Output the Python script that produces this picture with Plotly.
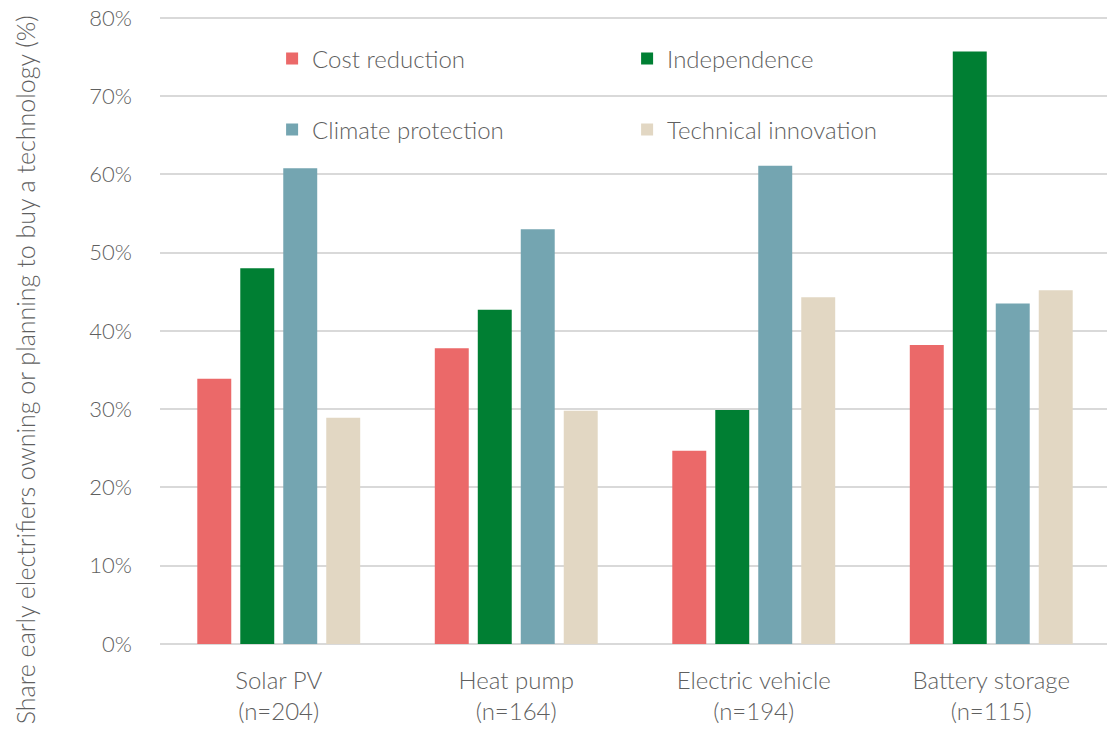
import plotly.graph_objects as go

categories = ["Solar PV<br>(n=204)", "Heat pump<br>(n=164)", "Electric vehicle<br>(n=194)", "Battery storage<br>(n=115)"]
series_names = ["Cost reduction", "Independence", "Climate protection", "Technical innovation"]
cost_reduction = [33.9, 37.8, 24.7, 38.2]
independence = [48.0, 42.7, 29.9, 75.7]
climate_protection = [60.8, 53.0, 61.1, 43.5]
technical_innovation = [28.9, 29.8, 44.3, 45.2]
y_ticks = [0, 10, 20, 30, 40, 50, 60, 70, 80]
y_tick_labels = ["0%", "10%", "20%", "30%", "40%", "50%", "60%", "70%", "80%"]
y_title = "Share early electrifiers owning or planning to buy a technology (%)"

colors = ["#EB6969", "#007F33", "#74A5B1", "#E2D7C3"]
values = [cost_reduction, independence, climate_protection, technical_innovation]
legends = ["legend", "legend", "legend2", "legend2"]

FONT = "Lato"
GRAY = "#5F5F5F"

fig = go.Figure()
for name, vals, col, lg in zip(series_names, values, colors, legends):
    fig.add_trace(go.Bar(x=categories, y=vals, name=name, marker_color=col,
                         marker_line_width=0, legend=lg))

fig.add_shape(type="rect", xref="paper", yref="y", x0=0.065, x1=0.816, y0=63, y1=78,
              fillcolor="white", line_width=0, layer="below")

fig.add_annotation(text=y_title, xref="paper", yref="paper", x=-0.142, y=0.436,
                   xanchor="center", yanchor="middle", textangle=-90, showarrow=False,
                   font=dict(family=FONT, size=25, color=GRAY, weight=300))

legend_common = dict(orientation="h", bgcolor="rgba(0,0,0,0)", entrywidth=310,
                     entrywidthmode="pixels", itemwidth=30, xanchor="left",
                     yanchor="middle", font=dict(family=FONT, size=24, color=GRAY, weight=300))

fig.update_layout(
    width=1115, height=731,
    margin=dict(l=152, r=13, t=8, b=95, autoexpand=False),
    plot_bgcolor="white", paper_bgcolor="white",
    barmode="group", bargap=0.276, bargroupgap=0.21,
    font=dict(family=FONT, color=GRAY, weight=300),
    legend=dict(x=0.118, y=0.9315, **legend_common),
    legend2=dict(x=0.118, y=0.8185, **legend_common),
    xaxis=dict(showgrid=False, tickfont=dict(family=FONT, size=24, color=GRAY, weight=300),
               ticks="", showline=False, automargin=False, ticklabelstandoff=20),
    yaxis=dict(range=[0, 80.25], tickvals=y_ticks, ticktext=y_tick_labels,
               showgrid=True, gridcolor="#D9D9D9", gridwidth=1.5,
               zeroline=True, zerolinecolor="#D9D9D9", zerolinewidth=1.5,
               automargin=False, ticklabeloverflow="allow",
               tickfont=dict(family=FONT, size=22, color=GRAY, weight=300), ticklabelstandoff=27),
)

fig.write_html("out.html")
